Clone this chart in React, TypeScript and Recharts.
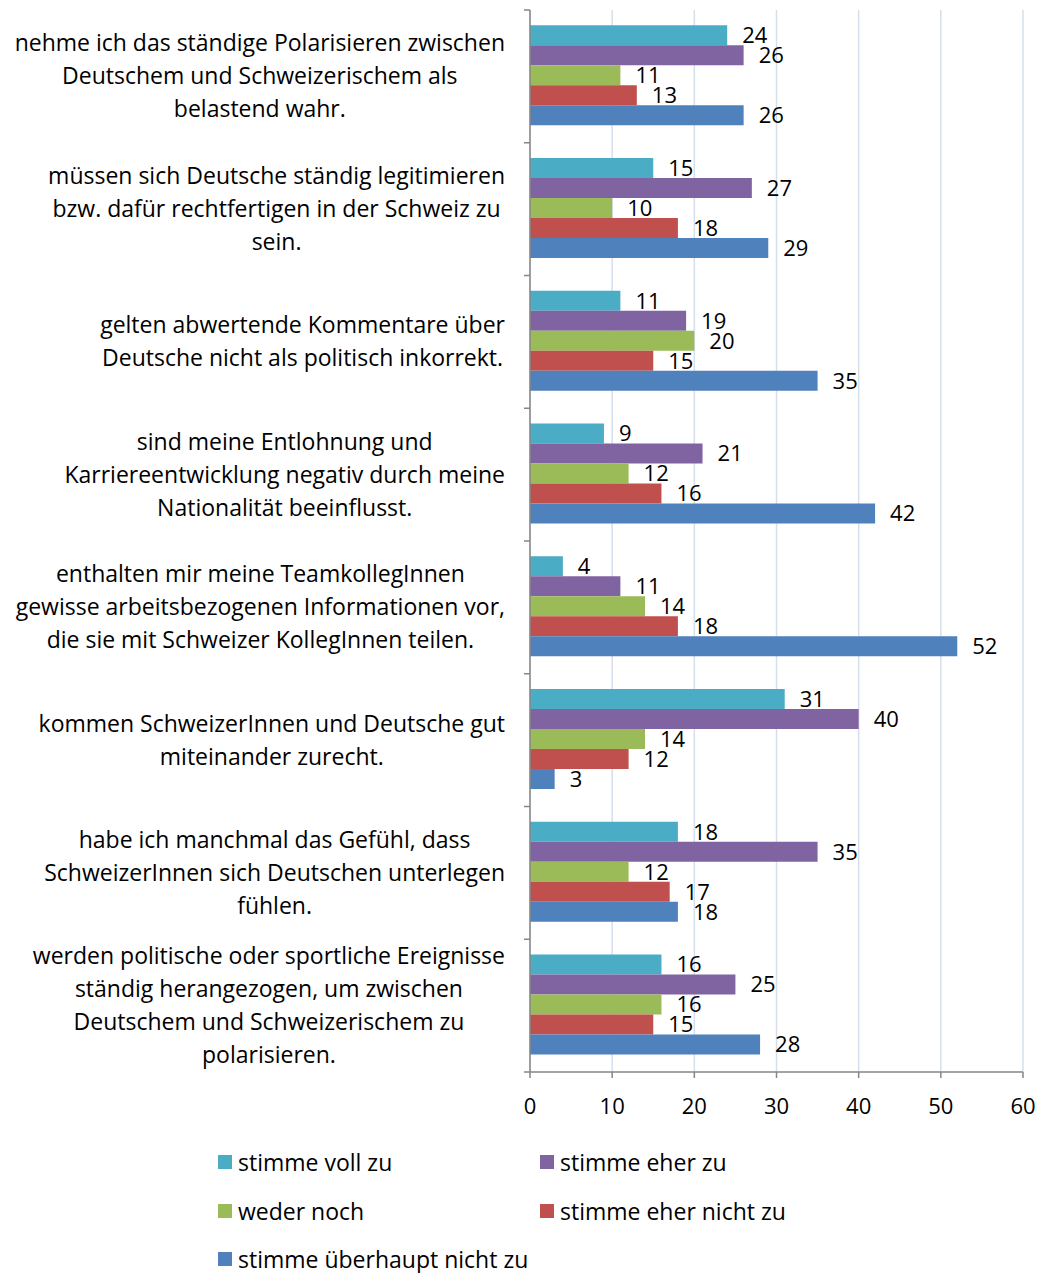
import React from 'react';
import {
    BarChart,
    Bar,
    CartesianGrid,
    LabelList,
    XAxis,
    YAxis
} from 'recharts';

const categoryLines: string[][] = [
    ['nehme ich das ständige Polarisieren zwischen', 'Deutschem und Schweizerischem als', 'belastend wahr.'],
    ['müssen sich Deutsche ständig legitimieren', 'bzw. dafür rechtfertigen in der Schweiz zu', 'sein.'],
    ['gelten abwertende Kommentare über', 'Deutsche nicht als politisch inkorrekt.'],
    ['sind meine Entlohnung und', 'Karriereentwicklung negativ durch meine', 'Nationalität beeinflusst.'],
    ['enthalten mir meine TeamkollegInnen', 'gewisse arbeitsbezogenen Informationen vor,', 'die sie mit Schweizer KollegInnen teilen.'],
    ['kommen SchweizerInnen und Deutsche gut', 'miteinander zurecht.'],
    ['habe ich manchmal das Gefühl, dass', 'SchweizerInnen sich Deutschen unterlegen', 'fühlen.'],
    ['werden politische oder sportliche Ereignisse', 'ständig herangezogen, um zwischen', 'Deutschem und Schweizerischem zu', 'polarisieren.'],
];

const seriesNames = ['stimme voll zu', 'stimme eher zu', 'weder noch', 'stimme eher nicht zu', 'stimme überhaupt nicht zu'];
const seriesColors = ['#4BACC6', '#8064A2', '#9BBB59', '#C0504D', '#4F81BD'];

const volleZu = [24, 15, 11, 9, 4, 31, 18, 16];
const eherZu = [26, 27, 19, 21, 11, 40, 35, 25];
const wederNoch = [11, 10, 20, 12, 14, 14, 12, 16];
const eherNicht = [13, 18, 15, 16, 18, 12, 17, 15];
const garNicht = [26, 29, 35, 42, 52, 3, 18, 28];

const xTicks = [0, 10, 20, 30, 40, 50, 60];

const seriesValues = [volleZu, eherZu, wederNoch, eherNicht, garNicht];
const keys = ['s0', 's1', 's2', 's3', 's4'];

const data = categoryLines.map((lines, i) => {
    const row: Record<string, string | number> = { name: lines.join(' ') };
    seriesValues.forEach((vals, k) => { row[keys[k]] = vals[i]; });
    return row;
});

// full-page canvas: drop the default body margin and scrollbars
document.documentElement.style.overflow = 'hidden';
document.body.style.margin = '0';

const FONT = '"Open Sans", sans-serif';
const TEXT_SIZE = 23;
const NUM_SIZE = 22;
const PAGE_W = 1041;
const PAGE_H = 1273;
const W = 1033;
const H = 1124;
const AXIS_X = 522;
const PLOT_TOP = 2;
const PLOT_BOTTOM = 1064;
const PLOT_RIGHT = 1015;
const BAND = (PLOT_BOTTOM - PLOT_TOP) / categoryLines.length;
const TEXT_RIGHT = 497;
const LINE_H = 33;

let ctx: CanvasRenderingContext2D | null = null;
const measure = (s: string) => {
    if (!ctx) {
        ctx = document.createElement('canvas').getContext('2d');
    }
    if (!ctx) return s.length * 11;
    ctx.font = `${TEXT_SIZE}px "Open Sans"`;
    return ctx.measureText(s).width;
};

const CategoryTick = (props: any) => {
    const { y, payload, index } = props;
    const lines = categoryLines[index] || [String(payload.value)];
    const maxW = Math.max(...lines.map(measure));
    const cx = TEXT_RIGHT - maxW / 2;
    const startY = y - ((lines.length - 1) * LINE_H) / 2;
    const isLast = index === categoryLines.length - 1;
    return (
        <g>
            <line x1={AXIS_X - 6} x2={AXIS_X} y1={y - BAND / 2} y2={y - BAND / 2} stroke="#868686" strokeWidth={1.5} />
            {isLast && (
                <line x1={AXIS_X - 6} x2={AXIS_X} y1={y + BAND / 2} y2={y + BAND / 2} stroke="#868686" strokeWidth={1.5} />
            )}
            <text textAnchor="middle" fontFamily={FONT} fontSize={TEXT_SIZE} fill="#000">
                {lines.map((l, i) => (
                    <tspan key={i} x={cx} y={startY + i * LINE_H} dy="0.35em">{l}</tspan>
                ))}
            </text>
        </g>
    );
};

const App: React.FC = () => {
    return (
        <div style={{ position: 'relative', width: PAGE_W, height: PAGE_H, fontFamily: FONT, background: '#fff' }}>
            <div style={{ position: 'absolute', left: 8, top: 8 }}>
                <BarChart
                    width={W}
                    height={H}
                    data={data}
                    layout="vertical"
                    margin={{ top: PLOT_TOP, right: W - PLOT_RIGHT, left: 0, bottom: 0 }}
                    barCategoryGap="11.5%"
                    barGap={0}
                >
                    <CartesianGrid horizontal={false} stroke="#D5DFEC" strokeWidth={1.5} />
                    <XAxis
                        type="number"
                        domain={[0, 60]}
                        ticks={xTicks}
                        interval={0}
                        height={H - PLOT_BOTTOM}
                        stroke="#868686"
                        strokeWidth={1.5}
                        tickSize={6}
                        tickMargin={20}
                        tick={{ fontSize: NUM_SIZE, fill: '#000', fontFamily: FONT }}
                    />
                    <YAxis
                        type="category"
                        dataKey="name"
                        width={AXIS_X}
                        stroke="#868686"
                        strokeWidth={1.5}
                        tickLine={false}
                        interval={0}
                        tick={<CategoryTick />}
                    />
                    {keys.map((k, i) => (
                        <Bar key={k} dataKey={k} name={seriesNames[i]} fill={seriesColors[i]} isAnimationActive={false}>
                            <LabelList dataKey={k} position="right" offset={15} fill="#000" fontSize={NUM_SIZE} fontFamily={FONT} />
                        </Bar>
                    ))}
                </BarChart>
            </div>
            {seriesNames.map((n, i) => {
                const col = i % 2;
                const row = Math.floor(i / 2);
                return (
                    <div
                        key={n}
                        style={{
                            position: 'absolute',
                            left: col === 0 ? 218 : 540,
                            top: 1150 + row * 48.5,
                            display: 'flex',
                            alignItems: 'center',
                            height: 24,
                            fontSize: TEXT_SIZE,
                            lineHeight: '24px',
                            color: '#000',
                            whiteSpace: 'nowrap'
                        }}
                    >
                        <span style={{ display: 'inline-block', width: 14, height: 14, background: seriesColors[i], marginRight: 6 }} />
                        {n}
                    </div>
                );
            })}
        </div>
    );
};

export default App;
